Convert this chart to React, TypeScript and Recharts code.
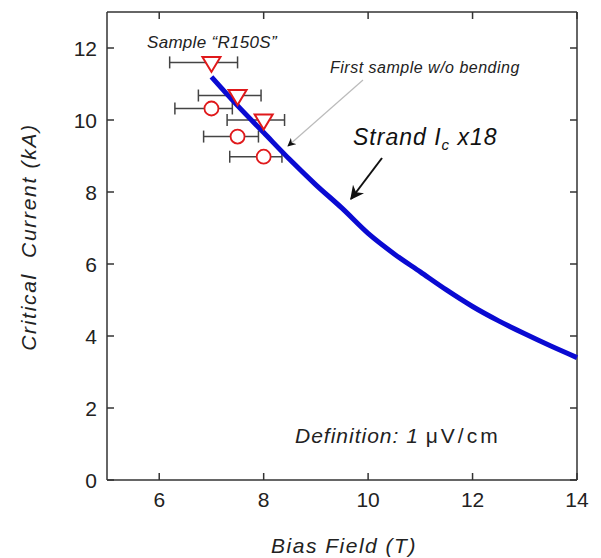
import {
  ComposedChart,
  Line,
  Scatter,
  ErrorBar,
  XAxis,
  YAxis,
  ReferenceLine,
} from 'recharts'

// strand Ic x18 curve
const lineField = [7.0, 7.5, 8.0, 8.5, 9.0, 9.5, 10.0, 10.5, 11.0, 11.5, 12.0, 12.5, 13.0, 13.5, 14.0]
const lineCurrent = [11.2, 10.4, 9.65, 8.9, 8.2, 7.55, 6.85, 6.28, 5.78, 5.28, 4.82, 4.42, 4.06, 3.72, 3.4]

// sample R150S, triangles
const triField = [7.0, 7.5, 8.0]
const triCurrent = [11.6, 10.68, 10.0]
const triLow = [6.2, 6.75, 7.3]
const triHigh = [7.5, 7.95, 8.4]

// circles
const circField = [7.0, 7.5, 8.0]
const circCurrent = [10.32, 9.54, 8.98]
const circLow = [6.3, 6.85, 7.35]
const circHigh = [7.4, 7.9, 8.35]

const xTicks = [6, 8, 10, 12, 14]
const yTicks = [0, 2, 4, 6, 8, 10, 12]

const FONT = '"Liberation Sans", Arial, sans-serif'
const RED = '#e0191b'
const INK = '#333'

const W = 601
const H = 558
const M = { top: 12, right: 24, bottom: 0, left: 0 }
const PLOT_TOP = M.top
const PLOT_RIGHT = W - M.right
const TICK = 7

const lineData = lineField.map((x, i) => ({ x, y: lineCurrent[i] }))
const triData = triField.map((x, i) => ({ x, y: triCurrent[i], err: [x - triLow[i], triHigh[i] - x] }))
const circData = circField.map((x, i) => ({ x, y: circCurrent[i], err: [x - circLow[i], circHigh[i] - x] }))

function TriangleDown(props: any) {
  const { cx, cy } = props
  if (cx == null || cy == null) return null
  return (
    <path
      d={`M${cx - 9},${cy - 5.5} L${cx + 9},${cy - 5.5} L${cx},${cy + 9.5} Z`}
      fill="#fff"
      stroke={RED}
      strokeWidth={2}
    />
  )
}

function CircleMark(props: any) {
  const { cx, cy } = props
  if (cx == null || cy == null) return null
  return <circle cx={cx} cy={cy} r={7} fill="#fff" stroke={RED} strokeWidth={1.8} />
}

// label + inward tick at bottom and top frame
function BottomTick(props: any) {
  const { x, y, payload } = props
  const axisY = y - 11
  return (
    <g>
      <line x1={x} x2={x} y1={axisY} y2={axisY - TICK} stroke={INK} strokeWidth={1.5} />
      <line x1={x} x2={x} y1={PLOT_TOP} y2={PLOT_TOP + TICK} stroke={INK} strokeWidth={1.5} />
      <text x={x} y={y} dy="0.75em" textAnchor="middle" fontSize={21} fill="#222" fontFamily={FONT}>
        {payload.value}
      </text>
    </g>
  )
}

// label + inward tick at left and right frame
function LeftTick(props: any) {
  const { x, y, payload } = props
  const axisX = x + 10
  return (
    <g>
      <line x1={axisX} x2={axisX + TICK} y1={y} y2={y} stroke={INK} strokeWidth={1.5} />
      <line x1={PLOT_RIGHT} x2={PLOT_RIGHT - TICK} y1={y} y2={y} stroke={INK} strokeWidth={1.5} />
      <text x={x} y={y} dy="0.36em" textAnchor="end" fontSize={21} fill="#222" fontFamily={FONT}>
        {payload.value}
      </text>
    </g>
  )
}

export default function App() {
  return (
    <div style={{ position: 'absolute', left: 0, top: 0, width: W, height: H, background: '#fff' }}>
      <ComposedChart width={W} height={H} margin={M}>
        <XAxis
          xAxisId="x"
          dataKey="x"
          type="number"
          domain={[5, 14]}
          ticks={xTicks}
          tick={<BottomTick />}
          tickLine={false}
          tickSize={0}
          tickMargin={11}
          height={78}
          axisLine={{ stroke: INK, strokeWidth: 1.5 }}
        />
        <YAxis
          yAxisId="y"
          type="number"
          domain={[0, 13]}
          ticks={yTicks}
          tick={<LeftTick />}
          tickLine={false}
          tickSize={0}
          tickMargin={10}
          width={107}
          axisLine={{ stroke: INK, strokeWidth: 1.5 }}
        />
        <ReferenceLine xAxisId="x" yAxisId="y" y={13} stroke={INK} strokeWidth={1.5} />
        <ReferenceLine xAxisId="x" yAxisId="y" x={14} stroke={INK} strokeWidth={1.5} />
        <Scatter
          xAxisId="x"
          yAxisId="y"
          data={circData}
          dataKey="y"
          shape={<CircleMark />}
          isAnimationActive={false}
        >
          <ErrorBar dataKey="err" direction="x" width={6} stroke="#444" strokeWidth={1.5} />
        </Scatter>
        <Scatter
          xAxisId="x"
          yAxisId="y"
          data={triData}
          dataKey="y"
          shape={<TriangleDown />}
          isAnimationActive={false}
        >
          <ErrorBar dataKey="err" direction="x" width={6} stroke="#444" strokeWidth={1.5} />
        </Scatter>
        <Line
          xAxisId="x"
          yAxisId="y"
          data={lineData}
          dataKey="y"
          type="monotone"
          stroke="#0a0ad2"
          strokeWidth={5}
          dot={false}
          activeDot={false}
          isAnimationActive={false}
        />
      </ComposedChart>
      <svg
        width={W}
        height={H}
        style={{ position: 'absolute', left: 0, top: 0, pointerEvents: 'none' }}
        fontFamily={FONT}
      >
        <defs>
          <marker id="ah" viewBox="0 0 10 10" refX="9" refY="5" markerWidth="7" markerHeight="7" orient="auto">
            <path d="M0,0 L10,5 L0,10 L3,5 Z" fill="#111" />
          </marker>
        </defs>
        <text x={28} y={237} transform="rotate(-90 28 237)" textAnchor="middle" dominantBaseline="central"
          fontSize={21} fontStyle="italic" letterSpacing={1.7} fill="#222">
          Critical{'\u00a0\u00a0'}Current (kA)
        </text>
        <text x={344} y={553} textAnchor="middle" fontSize={21} fontStyle="italic" letterSpacing={1.5} fill="#222">
          Bias Field (T)
        </text>
        <text x={147} y={48} fontSize={17} fontStyle="italic" letterSpacing={0.3} fill="#222">
          Sample “R150S”
        </text>
        <text x={330} y={73} fontSize={16} fontStyle="italic" letterSpacing={0.5} fill="#222">
          First sample w/o bending
        </text>
        <line x1={363} y1={80} x2={288} y2={146} stroke="#bbb" strokeWidth={1.2} markerEnd="url(#ah)" />
        <text x={353} y={145} fontSize={23} fontStyle="italic" letterSpacing={1} fill="#111">
          Strand I<tspan fontSize={15} dy={5}>c</tspan>
          <tspan dy={-5}> x18</tspan>
        </text>
        <line x1={382} y1={158} x2={351} y2={199} stroke="#111" strokeWidth={2} markerEnd="url(#ah)" />
        <text x={295} y={443} fontSize={21} fill="#222">
          <tspan fontStyle="italic" letterSpacing={1}>Definition: 1 </tspan>
          <tspan letterSpacing={3}>μV/cm</tspan>
        </text>
      </svg>
    </div>
  )
}
